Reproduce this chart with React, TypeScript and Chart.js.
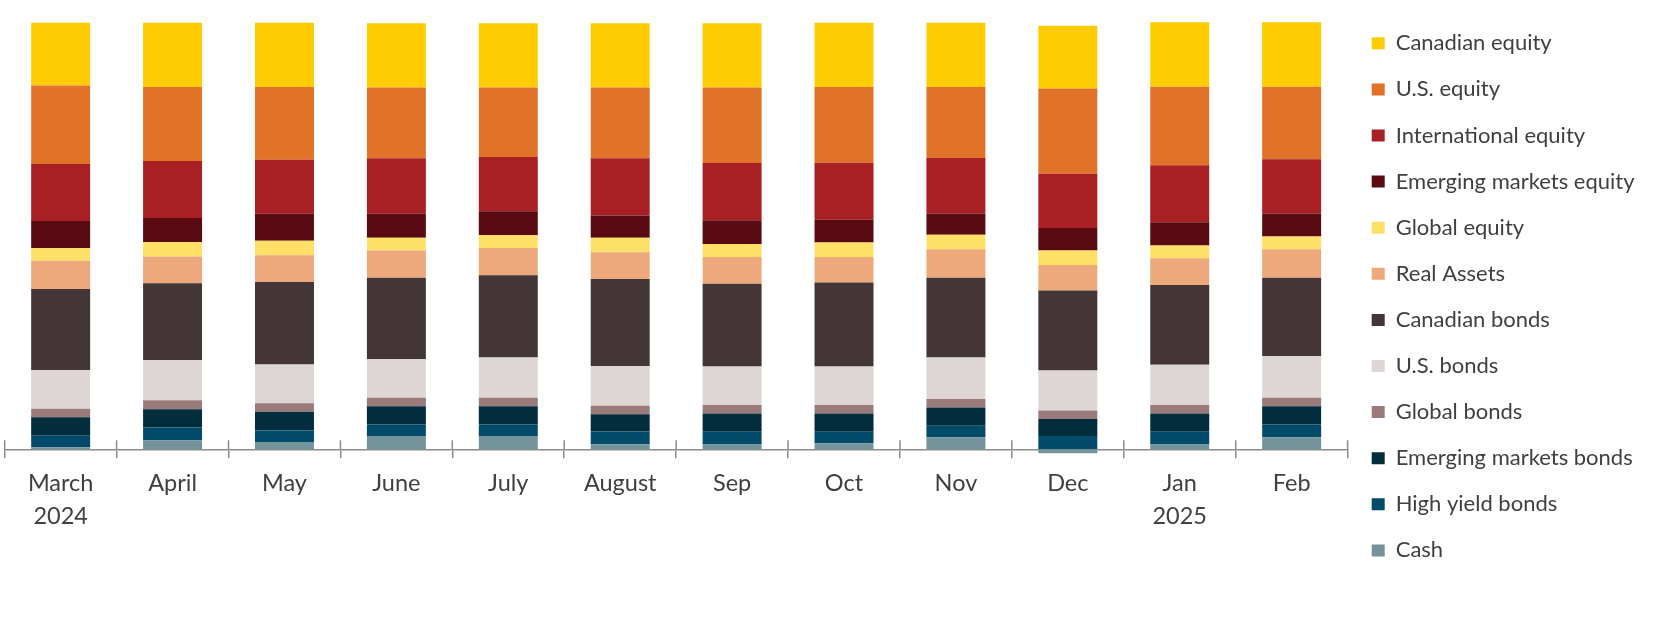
import React, { useEffect, useRef } from 'react';
import { Chart, registerables } from 'chart.js';

Chart.register(...registerables);

const months: (string | string[])[] = [
  ['March', '2024'], 'April', 'May', 'June', 'July', 'August',
  'Sep', 'Oct', 'Nov', 'Dec', ['Jan', '2025'], 'Feb',
];

const seriesNames = [
  'Canadian equity', 'U.S. equity', 'International equity', 'Emerging markets equity',
  'Global equity', 'Real Assets', 'Canadian bonds', 'U.S. bonds', 'Global bonds',
  'Emerging markets bonds', 'High yield bonds', 'Cash',
];

const seriesColors = [
  '#FFCC03', '#E07328', '#A81F24', '#5A0A11', '#FFE066', '#EDA97B',
  '#443536', '#DED6D5', '#9A7B7A', '#022D3C', '#024B6B', '#75939A',
];

const canadianEquity = [14.7, 15.1, 15.1, 15.1, 15.1, 15.1, 15.1, 15.1, 15.1, 14.7, 15.1, 15.1];
const usEquity = [18.4, 17.3, 17.0, 16.6, 16.3, 16.6, 17.7, 17.7, 16.6, 20.0, 18.4, 17.0];
const internationalEquity = [13.4, 13.4, 12.7, 13.0, 12.7, 13.4, 13.4, 13.4, 13.0, 12.7, 13.4, 12.7];
const emergingMarketsEquity = [6.3, 5.6, 6.3, 5.6, 5.6, 5.2, 5.6, 5.3, 5.0, 5.3, 5.4, 5.4];
const globalEquity = [3.0, 3.4, 3.4, 3.0, 3.0, 3.4, 3.0, 3.4, 3.4, 3.4, 3.0, 3.0];
const realAssets = [6.6, 6.3, 6.3, 6.4, 6.4, 6.3, 6.3, 6.0, 6.7, 6.0, 6.3, 6.7];
const canadianBonds = [19.0, 18.0, 19.3, 19.1, 19.3, 20.4, 19.4, 19.7, 18.7, 18.7, 18.7, 18.4];
const usBonds = [9.1, 9.4, 9.1, 9.0, 9.4, 9.3, 9.0, 9.0, 9.7, 9.4, 9.4, 9.7];
const globalBonds = [2.0, 2.1, 2.0, 2.0, 2.0, 2.0, 2.0, 2.0, 2.0, 2.0, 2.0, 2.0];
const emergingMarketsBonds = [4.3, 4.3, 4.4, 4.3, 4.3, 4.0, 4.3, 4.3, 4.3, 4.0, 4.3, 4.3];
const highYieldBonds = [2.7, 3.0, 2.7, 2.7, 2.7, 3.0, 3.0, 2.7, 2.7, 3.1, 3.0, 3.0];
const cash = [0.5, 2.1, 1.7, 3.1, 3.1, 1.2, 1.1, 1.4, 2.8, -0.9, 1.1, 2.8];

const AXIS_COLOR = '#8C8C8C';
const TEXT_COLOR = '#404040';
const FONT_FAMILY = 'Lato';
const LEGEND_FONT_SIZE = 22;
const LEGEND_PADDING = 24.1;
const LEGEND_BOX = 13;
const CANVAS_W = 1673;
const CANVAS_H = 623;
const PLOT_LEFT = 4.7;
const PLOT_RIGHT = 1347.6;

const crossTicks = {
  id: 'crossTicks',
  afterDatasetsDraw(chart: any) {
    const xs = chart.scales.x;
    const ys = chart.scales.y;
    const n = chart.data.labels.length;
    const first = xs.getPixelForValue(0);
    const step = n > 1 ? xs.getPixelForValue(1) - first : xs.width;
    const y0 = ys.getPixelForValue(0);
    const ctx = chart.ctx;
    ctx.save();
    ctx.strokeStyle = AXIS_COLOR;
    ctx.lineWidth = 1.5;
    for (let i = 0; i <= n; i++) {
      const px = first - step / 2 + i * step;
      ctx.beginPath();
      ctx.moveTo(px, y0 - 9);
      ctx.lineTo(px, y0);
      ctx.stroke();
    }
    ctx.restore();
  },
};

export default function App() {
  const ref = useRef<HTMLCanvasElement>(null);

  useEffect(() => {
    const series = [
      canadianEquity, usEquity, internationalEquity, emergingMarketsEquity, globalEquity,
      realAssets, canadianBonds, usBonds, globalBonds, emergingMarketsBonds, highYieldBonds, cash,
    ];
    const datasets = seriesNames
      .map((name, i) => ({
        label: name,
        data: series[i],
        backgroundColor: seriesColors[i],
        borderWidth: 0,
        barPercentage: 0.527,
        categoryPercentage: 1,
        clip: false as any,
      }))
      .reverse();

    // measure widest legend label so the plot's right edge lands where intended
    const mctx = document.createElement('canvas').getContext('2d') as CanvasRenderingContext2D;
    mctx.font = `${LEGEND_FONT_SIZE}px ${FONT_FAMILY}`;
    const maxText = Math.max(...seriesNames.map((s) => mctx.measureText(s).width));
    const legendWidth = LEGEND_PADDING + LEGEND_BOX + LEGEND_FONT_SIZE / 2 + maxText + 10;
    const rightPad = Math.max(0, CANVAS_W - PLOT_RIGHT - legendWidth);

    const chart = new Chart(ref.current as HTMLCanvasElement, {
      type: 'bar',
      data: { labels: months as any, datasets },
      options: {
        animation: false,
        responsive: true,
        maintainAspectRatio: false,
        layout: { padding: { top: 8.2, left: PLOT_LEFT, right: rightPad, bottom: 0 } },
        plugins: {
          legend: {
            position: 'right',
            align: 'start',
            reverse: true,
            labels: {
              boxWidth: LEGEND_BOX,
              boxHeight: 12,
              padding: LEGEND_PADDING,
              color: TEXT_COLOR,
              font: { family: FONT_FAMILY, size: LEGEND_FONT_SIZE },
            },
          },
          tooltip: { enabled: false },
        },
        scales: {
          x: {
            stacked: true,
            offset: true,
            grid: {
              display: true,
              offset: true,
              drawOnChartArea: false,
              drawTicks: true,
              tickLength: 9,
              color: AXIS_COLOR,
              lineWidth: 1.5,
            },
            border: { display: true, color: AXIS_COLOR, width: 1.5 },
            ticks: {
              color: TEXT_COLOR,
              padding: 9.2,
              maxRotation: 0,
              autoSkip: false,
              font: { family: FONT_FAMILY, size: 23.5, lineHeight: 1.383 },
            },
            afterFit: (scale: any) => {
              scale.height = 173.7;
            },
          },
          y: {
            stacked: true,
            display: false,
            min: 0,
            max: 103.4,
          },
        },
      },
      plugins: [crossTicks],
    });
    return () => chart.destroy();
  }, []);

  return (
    <div style={{ position: 'absolute', left: 0, top: 0, width: CANVAS_W, height: CANVAS_H, background: '#fff' }}>
      <canvas ref={ref} />
    </div>
  );
}
